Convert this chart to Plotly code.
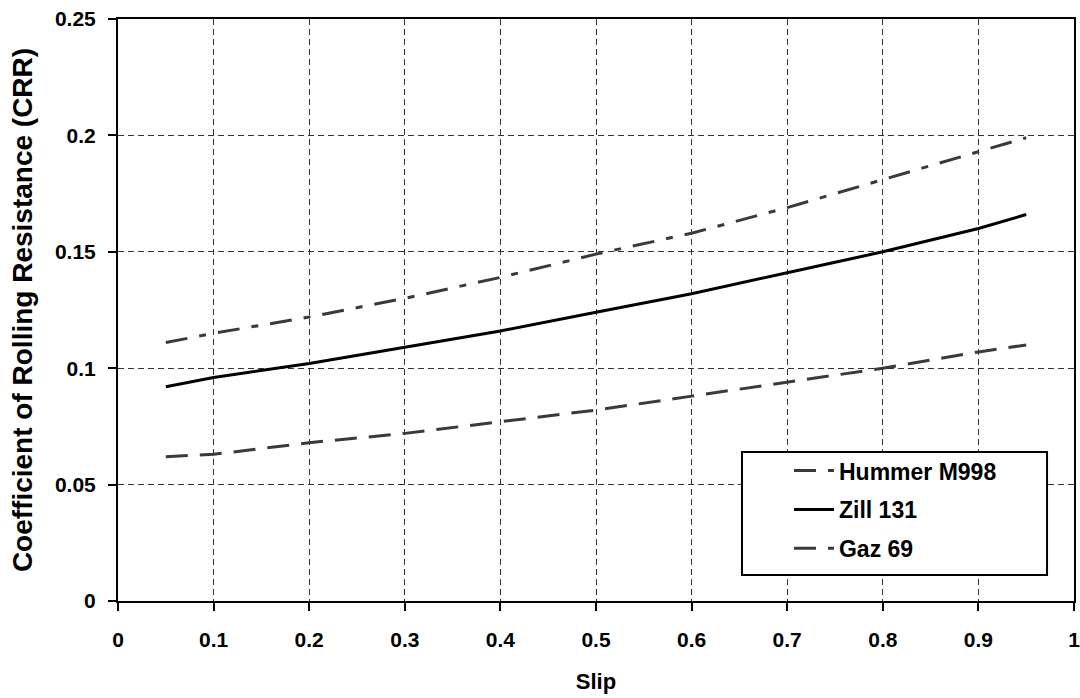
import plotly.graph_objects as go

slip = [0.05, 0.1, 0.2, 0.3, 0.4, 0.5, 0.6, 0.7, 0.8, 0.9, 0.95]
hummer = [0.062, 0.063, 0.068, 0.072, 0.077, 0.082, 0.088, 0.094, 0.100, 0.107, 0.110]
zill = [0.092, 0.096, 0.102, 0.109, 0.116, 0.124, 0.132, 0.141, 0.150, 0.160, 0.166]
gaz = [0.111, 0.115, 0.122, 0.130, 0.139, 0.149, 0.158, 0.169, 0.181, 0.193, 0.199]

x_ticks = [0, 0.1, 0.2, 0.3, 0.4, 0.5, 0.6, 0.7, 0.8, 0.9, 1]
x_labels = ["0", "0.1", "0.2", "0.3", "0.4", "0.5", "0.6", "0.7", "0.8", "0.9", "1"]
y_ticks = [0, 0.05, 0.1, 0.15, 0.2, 0.25]
y_labels = ["0", "0.05", "0.1", "0.15", "0.2", "0.25"]

FONT = "Liberation Sans, Arial, sans-serif"

fig = go.Figure()
fig.add_trace(go.Scatter(x=slip, y=hummer, mode="lines", name="<b>Hummer M998</b>", legendgroup="a",
                         line=dict(color="#3a3a3a", width=3, dash="22px,12px")))
fig.add_trace(go.Scatter(x=slip, y=zill, mode="lines", name="<b>Zill 131</b>", legendgroup="b",
                         line=dict(color="black", width=3)))
fig.add_trace(go.Scatter(x=slip, y=gaz, mode="lines", name="<b>Gaz 69</b>", legendgroup="c",
                         line=dict(color="#3a3a3a", width=3, dash="22px,12px,7px,12px")))

axis_common = dict(showline=True, linecolor="black", linewidth=2, mirror=True,
                   ticks="outside", ticklen=8, tickwidth=2, tickcolor="black",
                   showgrid=True, gridcolor="#333333", gridwidth=1, griddash="6px,4px",
                   zeroline=False, automargin=False, ticklabeloverflow="allow",
                   tickfont=dict(family=FONT, size=21, color="black"))

fig.update_xaxes(range=[0, 1], tickvals=x_ticks, ticktext=["<b>%s</b>" % t for t in x_labels],
                 ticklabelstandoff=11,
                 title=dict(text="<b>Slip</b>", font=dict(family=FONT, size=22, color="black"), standoff=23),
                 **axis_common)
fig.update_yaxes(range=[0, 0.25], tickvals=y_ticks, ticktext=["<b>%s</b>" % t for t in y_labels],
                 ticklabelstandoff=8,
                 title=dict(text="<b>Coefficient of Rolling Resistance (CRR)</b>",
                            font=dict(family=FONT, size=28, color="black"), standoff=14),
                 **axis_common)

# legend frame drawn as a box in paper coordinates
fig.add_shape(type="rect", xref="paper", yref="paper",
              x0=0.6527, x1=0.9718, y0=0.0447, y1=0.256,
              line=dict(color="black", width=2), fillcolor="white", layer="above")

fig.update_layout(
    width=1080, height=698,
    margin=dict(l=118, r=6, t=19, b=97),
    paper_bgcolor="white", plot_bgcolor="white",
    font=dict(family=FONT, color="black"),
    legend=dict(x=0.6527, y=0.261, xanchor="left", yanchor="top",
                bgcolor="rgba(0,0,0,0)", borderwidth=0,
                font=dict(family=FONT, size=23, color="black"),
                traceorder="grouped", tracegroupgap=6, itemwidth=40,
                indentation=47),
    showlegend=True,
)

# remove the default page margin so the 1080x698 figure fills the window exactly
fig.write_html("out.html",
               config={"displayModeBar": False},
               post_script="document.body.style.margin='0';"
                           "document.documentElement.style.overflow='hidden';")
